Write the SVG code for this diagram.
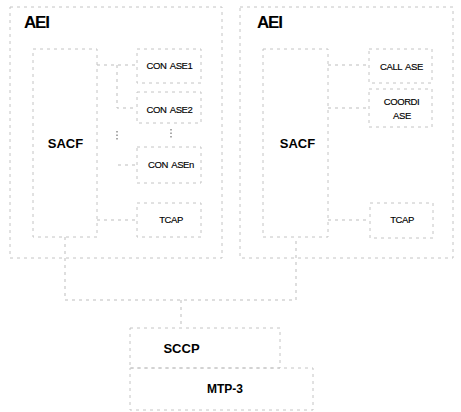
<svg xmlns="http://www.w3.org/2000/svg" width="461" height="412" viewBox="0 0 461 412">
<style>
.box{fill:none;stroke:#c4c4c4;stroke-width:1;stroke-dasharray:3 4}
.ln{fill:none;stroke:#bdbdbd;stroke-width:1;stroke-dasharray:3 4}
.dots{fill:none;stroke:#555;stroke-width:1;stroke-dasharray:1.5 2}
.big{font-family:"Liberation Sans",Arial,sans-serif;font-weight:bold;fill:#000}
.sm{font-family:"Liberation Sans",Arial,sans-serif;font-size:9.5px;fill:#000;letter-spacing:-0.4px;word-spacing:1.5px;stroke:#000;stroke-width:0.15}
</style>
<rect width="461" height="412" fill="#fff"/>
<g id="connectors">
<path class="ln" d="M97,65 H137"/>
<path class="ln" d="M117,65 V108 H137"/>
<path class="ln" d="M118,165 H137"/>
<path class="ln" d="M97,220 H137"/>
<path class="dots" d="M117,131 V141 M171,129 V139"/>
<path class="ln" d="M328,65 H369"/>
<path class="ln" d="M328,108 H369"/>
<path class="ln" d="M328,220 H370"/>
<path class="ln" d="M65,237 V300 H296 V237"/>
<path class="ln" d="M181,300 V328"/>
</g>
<g id="aei-left"><rect class="box" x="10" y="7" width="212" height="251"/><text class="big" x="24" y="28" font-size="17" textLength="26">AEI</text></g>
<g id="aei-right"><rect class="box" x="240" y="7" width="213" height="251"/><text class="big" x="257" y="28" font-size="17" textLength="26">AEI</text></g>
<g id="sacf-left"><rect class="box" x="33" y="49" width="64" height="188"/><text class="big" x="65.5" y="148" font-size="13" text-anchor="middle">SACF</text></g>
<g id="sacf-right"><rect class="box" x="263" y="49" width="65" height="188"/><text class="big" x="297.5" y="148" font-size="13" text-anchor="middle">SACF</text></g>
<g id="conase1"><rect class="box" x="137" y="49" width="64" height="34"/><text class="sm" x="169.5" y="69" text-anchor="middle">CON ASE1</text></g>
<g id="conase2"><rect class="box" x="137" y="92" width="64" height="31"/><text class="sm" x="169.5" y="113" text-anchor="middle">CON ASE2</text></g>
<g id="conasen"><rect class="box" x="137" y="147" width="64" height="36"/><text class="sm" x="171" y="168" text-anchor="middle">CON ASEn</text></g>
<g id="tcap-left"><rect class="box" x="137" y="203" width="64" height="34"/><text class="sm" x="171" y="223" text-anchor="middle">TCAP</text></g>
<g id="callase"><rect class="box" x="369" y="49" width="63" height="34"/><text class="sm" x="401.5" y="70" text-anchor="middle">CALL ASE</text></g>
<g id="coordiase"><rect class="box" x="369" y="89" width="63" height="38"/><text class="sm" x="401.5" y="105" text-anchor="middle">COORDI</text><text class="sm" x="402" y="119" text-anchor="middle">ASE</text></g>
<g id="tcap-right"><rect class="box" x="370" y="203" width="63" height="35"/><text class="sm" x="402" y="223" text-anchor="middle">TCAP</text></g>
<g id="sccp"><rect class="box" x="130" y="328" width="150" height="40"/><text class="big" x="181.5" y="353" font-size="13" text-anchor="middle">SCCP</text></g>
<g id="mtp3"><rect class="box" x="130" y="368" width="183" height="42"/><text class="big" x="225" y="393" font-size="12" text-anchor="middle">MTP-3</text></g>
</svg>
